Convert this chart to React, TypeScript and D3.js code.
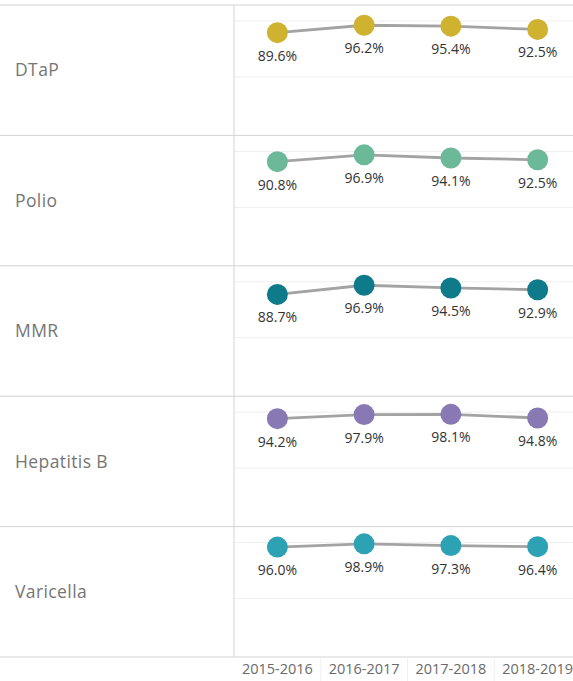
import React from "react";
import * as d3 from "d3";

const vaccines = ["DTaP", "Polio", "MMR", "Hepatitis B", "Varicella"];
const years = ["2015-2016", "2016-2017", "2017-2018", "2018-2019"];
const dtap = [89.6, 96.2, 95.4, 92.5];
const polio = [90.8, 96.9, 94.1, 92.5];
const mmr = [88.7, 96.9, 94.5, 92.9];
const hepB = [94.2, 97.9, 98.1, 94.8];
const varicella = [96.0, 98.9, 97.3, 96.4];
const colors = ["#cfb22f", "#6cb99a", "#0f7a89", "#8878b3", "#2ea2b5"];
const gridTicks = [50, 100];

const series = [dtap, polio, mmr, hepB, varicella];

const W = 573;
const H = 681;
const left = 234;
const top = 5;
const bottom = 657;

const App = () => {
  // rows = one panel per vaccine
  const row = d3.scaleBand<string>().domain(vaccines).range([top, bottom]);
  const x = d3.scaleBand<string>().domain(years).range([left, 581]);
  const bw = row.bandwidth();
  // y inside a panel: 100% sits 16px below the panel top, 0% near the bottom
  const y = d3.scaleLinear().domain([0, 100]).range([bw - 2.5, 16]);
  const line = d3
    .line<number>()
    .x((d, i) => x(years[i])! + x.bandwidth() / 2)
    .y((d) => y(d));

  return (
    <svg width={W} height={H} style={{ position: "absolute", left: 0, top: 0, background: "#fff" }}>
      <g fontFamily="'Open Sans', sans-serif">
        {vaccines.map((v, r) => {
          const y0 = row(v)!;
          return (
            <g key={v} transform={`translate(0,${y0})`}>
              {gridTicks.map((t) => (
                <line key={t} x1={left} x2={W} y1={y(t)} y2={y(t)} stroke="#efefef" strokeWidth={1} />
              ))}
              <text x={15} y={bw / 2} dy="0.35em" fontSize={17.5} letterSpacing={0.4} fill="#757575">
                {v}
              </text>
              <path d={line(series[r])!} fill="none" stroke="#a3a3a3" strokeWidth={2.8} />
              {series[r].map((d, i) => (
                <g key={i}>
                  <circle
                    cx={x(years[i])! + x.bandwidth() / 2}
                    cy={y(d)}
                    r={10.5}
                    fill={colors[r]}
                  />
                  <text
                    x={x(years[i])! + x.bandwidth() / 2}
                    y={y(d) + 28}
                    textAnchor="middle"
                    fontSize={14}
                    fill="#333"
                  >
                    {d.toFixed(1)}%
                  </text>
                </g>
              ))}
            </g>
          );
        })}
        {d3.range(vaccines.length + 1).map((i) => {
          const yy = top + i * bw;
          return <line key={i} x1={0} x2={W} y1={yy} y2={yy} stroke="#d3d3d3" strokeWidth={1} />;
        })}
        <line x1={left} x2={left} y1={top} y2={bottom} stroke="#d3d3d3" strokeWidth={1} />
        {years.slice(1).map((yr) => (
          <line key={yr} x1={x(yr)!} x2={x(yr)!} y1={bottom} y2={H} stroke="#f0f0f0" strokeWidth={1} />
        ))}
        {years.map((yr) => (
          <text
            key={yr}
            x={x(yr)! + x.bandwidth() / 2}
            y={674}
            textAnchor="middle"
            fontSize={14.5}
            fill="#6a6a6a"
          >
            {yr}
          </text>
        ))}
      </g>
    </svg>
  );
};

export default App;
